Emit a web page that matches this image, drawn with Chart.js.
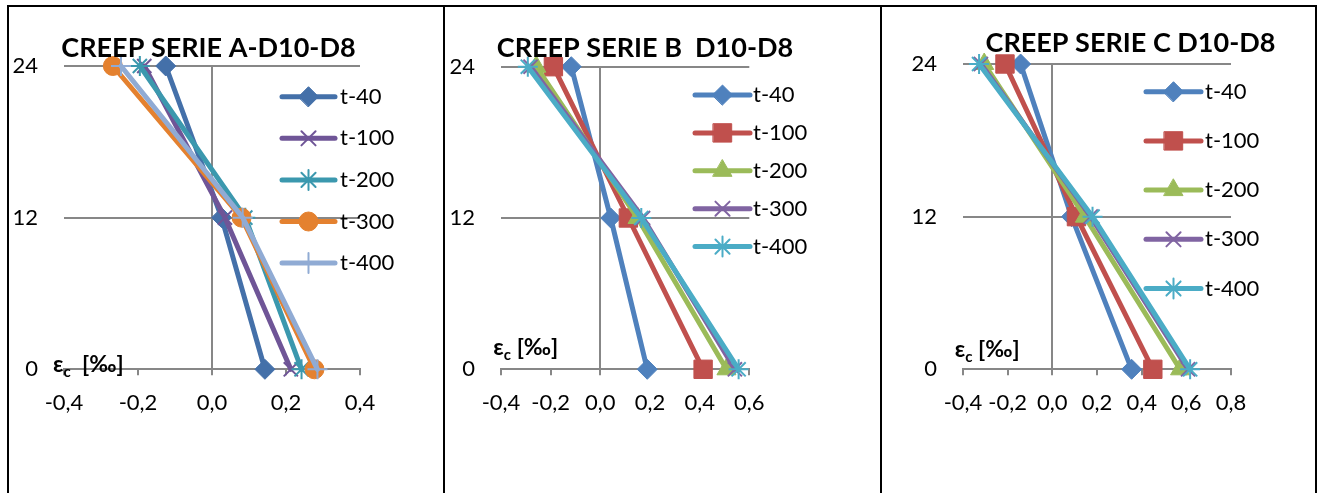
<!DOCTYPE html>
<html><head><meta charset="utf-8">
<script src="https://cdn.jsdelivr.net/npm/chart.js@4.4.1/dist/chart.umd.min.js"></script>
<style>
html,body{margin:0;padding:0;background:#fff;width:1318px;height:493px;overflow:hidden;position:relative;}
canvas{position:absolute;top:0;}
.frame{position:absolute;background:#000;z-index:5;}
</style></head><body>
<canvas id="cA" width="440" height="493" style="left:0px"></canvas>
<canvas id="cB" width="436" height="493" style="left:444px"></canvas>
<canvas id="cC" width="436" height="493" style="left:882px"></canvas>
<div class="frame" style="left:7px;top:5px;width:1310px;height:2px"></div>
<div class="frame" style="left:7px;top:5px;width:2px;height:488px"></div>
<div class="frame" style="left:443px;top:5px;width:2px;height:488px"></div>
<div class="frame" style="left:880px;top:5px;width:2px;height:488px"></div>
<div class="frame" style="left:1315px;top:5px;width:2px;height:488px"></div>
<script>
// ---- data ----
const depths = [24, 12, 0];
const seriesNames = ['t-40', 't-100', 't-200', 't-300', 't-400'];
const yTickLabels = ['0', '12', '24'];
const xTicksA = ['-0,4', '-0,2', '0,0', '0,2', '0,4'];
const xTicksB = ['-0,4', '-0,2', '0,0', '0,2', '0,4', '0,6'];
const xTicksC = ['-0,4', '-0,2', '0,0', '0,2', '0,4', '0,6', '0,8'];

// strain values at depths 24, 12, 0
const A_t40  = [-0.125, 0.026, 0.143];
const A_t100 = [-0.183, 0.035, 0.213];
const A_t200 = [-0.195, 0.090, 0.242];
const A_t300 = [-0.268, 0.080, 0.277];
const A_t400 = [-0.246, 0.083, 0.285];

const B_t40  = [-0.117, 0.042, 0.189];
const B_t100 = [-0.189, 0.113, 0.414];
const B_t200 = [-0.258, 0.150, 0.508];
const B_t300 = [-0.281, 0.172, 0.542];
const B_t400 = [-0.292, 0.165, 0.557];

const C_t40  = [-0.142, 0.086, 0.355];
const C_t100 = [-0.212, 0.108, 0.450];
const C_t200 = [-0.305, 0.146, 0.572];
const C_t300 = [-0.320, 0.172, 0.608];
const C_t400 = [-0.328, 0.180, 0.617];

// ---- styles ----
const FONT = 'Lato, "Open Sans", sans-serif';
const GRID = '#878787';
const colorsA = ['#4470A9', '#6F5597', '#3B98AE', '#E4812F', '#90ABD4'];
const colorsBC = ['#4F81BD', '#C0504D', '#9BBB59', '#8064A2', '#4BACC6'];
const stylesA = ['rectRot', 'crossRot', 'star', 'circle', 'cross'];
const stylesBC = ['rectRot', 'rect', 'triangle', 'crossRot', 'star'];
const radius = {rectRot: 10, crossRot: 10, star: 10, circle: 9.5, cross: 10, rect: 13, triangle: 11};
const strokeOnly = {crossRot: true, star: true, cross: true};

function makeDatasets(series, colors, styles) {
  return series.map((vals, i) => ({
    label: seriesNames[i],
    data: vals.map((v, k) => ({x: v, y: depths[k]})),
    borderColor: colors[i],
    backgroundColor: colors[i],
    borderWidth: 5,
    borderCapStyle: 'round',
    borderJoinStyle: 'round',
    tension: 0,
    showLine: true,
    pointStyle: styles[i],
    pointRadius: radius[styles[i]],
    pointHoverRadius: radius[styles[i]],
    pointBorderWidth: strokeOnly[styles[i]] ? 2 : 1,
    pointBorderColor: colors[i],
    pointBackgroundColor: colors[i],
    order: series.length - i,
    clip: false
  }));
}

const decor = {
  id: 'decor',
  afterDraw(chart, args, o) {
    const ctx = chart.ctx;
    ctx.save();
    // title
    ctx.fillStyle = '#000';
    ctx.font = 'bold 27px ' + FONT;
    ctx.textAlign = 'center';
    ctx.textBaseline = 'middle';
    ctx.fillText(o.title, o.titleX, o.titleY);
    // axis label  εc [‰]
    ctx.textAlign = 'left';
    ctx.textBaseline = 'alphabetic';
    let x = o.labX;
    ctx.font = 'bold 23px ' + FONT;
    ctx.fillText('ε', x, o.labY);
    x += ctx.measureText('ε').width;
    ctx.font = 'bold 15px ' + FONT;
    ctx.fillText('c', x, o.labY + 5);
    x += ctx.measureText('c').width;
    ctx.font = 'bold 23px ' + FONT;
    ctx.fillText(o.labRest, x, o.labY);
    // legend
    chart.data.datasets.forEach((ds, i) => {
      const y = o.legY0 + i * o.legDy;
      ctx.strokeStyle = ds.borderColor;
      ctx.fillStyle = ds.backgroundColor;
      ctx.lineWidth = 5;
      ctx.lineCap = 'round';
      ctx.beginPath();
      ctx.moveTo(o.legX1, y);
      ctx.lineTo(o.legX2, y);
      ctx.stroke();
      ctx.lineWidth = ds.pointBorderWidth;
      Chart.helpers.drawPoint(ctx, {pointStyle: ds.pointStyle, radius: ds.pointRadius, borderWidth: ds.pointBorderWidth, rotation: 0}, (o.legX1 + o.legX2) / 2, y);
      ctx.fillStyle = '#000';
      ctx.font = '22px ' + FONT;
      ctx.textBaseline = 'middle';
      ctx.fillText(ds.label, o.legTX, y);
    });
    ctx.restore();
  }
};

function makeChart(id, series, colors, styles, xLabels, xMax, pad, yw, deco) {
  return new Chart(document.getElementById(id), {
    type: 'scatter',
    data: {datasets: makeDatasets(series, colors, styles)},
    plugins: [decor],
    options: {
      responsive: false,
      devicePixelRatio: 1,
      animation: false,
      events: [],
      layout: {padding: pad},
      plugins: {legend: {display: false}, title: {display: false}, tooltip: {enabled: false}, decor: deco},
      scales: {
        x: {
          type: 'linear', min: -0.4, max: xMax,
          ticks: {stepSize: 0.2, color: '#000', font: {family: FONT, size: 22}, padding: 14,
                  maxRotation: 0, autoSkip: false,
                  callback: (v, i) => xLabels[i]},
          grid: {color: c => (Math.abs(c.tick.value) < 1e-9 ? GRID : 'rgba(0,0,0,0)'),
                 lineWidth: 2, tickColor: GRID, tickLength: 6, drawTicks: true},
          border: {display: true, color: GRID, width: 2},
          afterFit: s => { s.height = 60; }
        },
        y: {
          type: 'linear', min: 0, max: 24,
          ticks: {stepSize: 12, color: '#000', font: {family: FONT, size: 22}, padding: 26,
                  callback: (v, i) => yTickLabels[i]},
          grid: {color: GRID, lineWidth: 2, drawTicks: false},
          border: {display: false},
          afterFit: s => { s.width = yw; }
        }
      }
    }
  });
}

makeChart('cA', [A_t40, A_t100, A_t200, A_t300, A_t400], colorsA, stylesA, xTicksA, 0.4,
  {left: 10, right: 80, top: 66, bottom: 63.7}, 54,
  {title: 'CREEP SERIE A-D10-D8', titleX: 208.5, titleY: 48, labX: 53, labY: 372, labRest: '  [‰]',
   legX1: 282, legX2: 335, legTX: 340, legY0: 96.7, legDy: 41.6});
makeChart('cB', [B_t40, B_t100, B_t200, B_t300, B_t400], colorsBC, stylesBC, xTicksB, 0.6,
  {left: 3, right: 130.7, top: 66.7, bottom: 63.7}, 54,
  {title: 'CREEP SERIE B  D10-D8', titleX: 201, titleY: 48, labX: 49.3, labY: 355, labRest: ' [‰]',
   legX1: 251, legX2: 306, legTX: 309, legY0: 95, legDy: 37.9});
makeChart('cC', [C_t40, C_t100, C_t200, C_t300, C_t400], colorsBC, stylesBC, xTicksC, 0.8,
  {left: 27, right: 87, top: 64, bottom: 63.7}, 54,
  {title: 'CREEP SERIE C D10-D8', titleX: 248.5, titleY: 43, labX: 72.7, labY: 357, labRest: ' [‰]',
   legX1: 264, legX2: 319, legTX: 323, legY0: 91.7, legDy: 49.2});
</script>
</body></html>
